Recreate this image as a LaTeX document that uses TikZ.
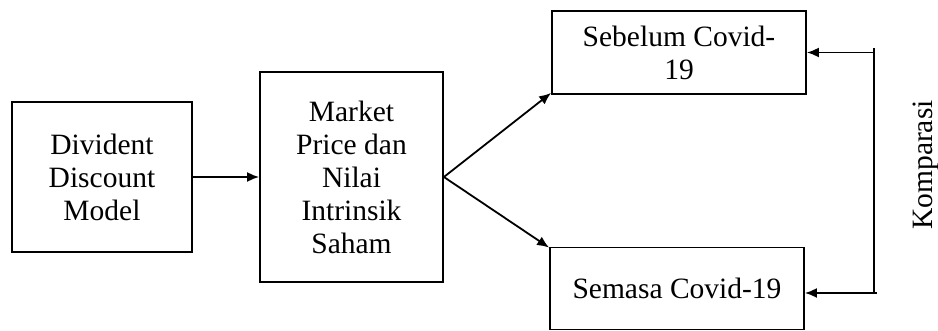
\documentclass[tikz,border=0pt]{standalone}
\usepackage{fontspec}
\setmainfont{Liberation Serif}
\usetikzlibrary{arrows.meta}
\begin{document}
\begin{tikzpicture}[x=1pt,y=-1pt,
  box/.style={draw, line width=1.8pt, align=center, inner sep=0pt,
    font=\fontsize{29.5}{33}\selectfont},
  conn/.style={line width=1.8pt, -{Latex[length=12pt,width=10pt]}},
  plain/.style={line width=1.8pt}]
\useasboundingbox (0,0) rectangle (938,331);
\node[box, minimum width=180pt, minimum height=150pt] (b1) at (102,177) {Divident\\Discount\\Model};
\node[box, minimum width=183pt, minimum height=210pt] (b2) at (351.5,177) {Market\\Price dan\\Nilai\\Intrinsik\\Saham};
\node[box, minimum width=254pt, minimum height=83pt] (b3) at (679,52.5) {Sebelum Covid-\\19};
\node[box, minimum width=254pt, minimum height=82pt] (b4) at (677,288.5) {Semasa Covid-19};
\node[font=\fontsize{29.5}{33}\selectfont, rotate=90] (k) at (926,165) {Komparasi};
\coordinate (kt) at (874,48);
\coordinate (kb) at (874,293);
\coordinate (kb2) at (877,293);
\coordinate (kt2) at (874,52.5);
\draw[conn] (b1.east) -- (b2.west);
\draw[conn] (b2.east) -- ([yshift=2pt]b3.south west);
\draw[conn] (b2.east) -- ([yshift=-1pt]b4.north west);
\draw[plain] (kt) -- (kb);
\draw[conn] (kt2) -- (b3.east);
\draw[conn] (kb2) -- (b4.east |- kb2);
\end{tikzpicture}
\end{document}
